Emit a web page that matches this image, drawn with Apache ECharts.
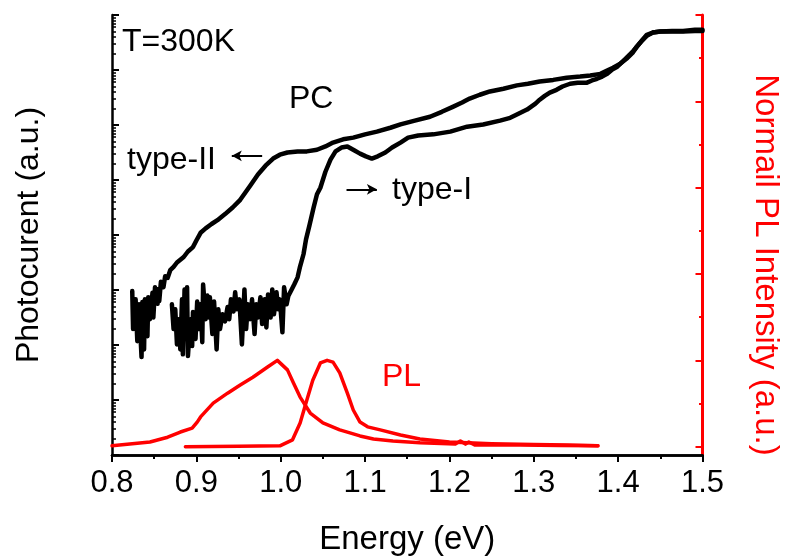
<!DOCTYPE html>
<html>
<head>
<meta charset="utf-8">
<script src="https://cdn.jsdelivr.net/npm/echarts@6/dist/echarts.min.js"></script>
<style>html,body{margin:0;padding:0;background:#fff}#c{width:785px;height:558px}</style>
</head>
<body>
<div id="c"></div>
<script>
// Energy axis (eV)
const xTicks = [0.8, 0.9, 1.0, 1.1, 1.2, 1.3, 1.4, 1.5];
// Photocurrent is on a log axis: values stored as log10(photocurrent, a.u.), 8 decades
const decades = [0, 1, 2, 3, 4, 5, 6, 7, 8];
// Normalised PL major / minor ticks
const plMajor = [0, 0.2, 0.4, 0.6, 0.8, 1.0];
const plMinor = [0.1, 0.3, 0.5, 0.7, 0.9];

// [energy eV, log10 photocurrent]
const pcTypeII = [[0.824,2.98],[0.825,2.29],[0.828,2.83],[0.830,2.07],[0.832,2.74],[0.835,1.78],[0.836,2.78],[0.838,1.92],[0.839,2.83],[0.842,2.16],[0.843,2.87],[0.845,2.47],[0.848,2.95],[0.849,2.50],[0.851,3.05],[0.854,2.75],[0.855,3.02],[0.856,2.80],[0.858,3.15],[0.861,3.05],[0.863,3.25],[0.866,3.22],[0.869,3.36],[0.873,3.42],[0.877,3.50],[0.881,3.55],[0.885,3.60],[0.890,3.70],[0.896,3.78],[0.900,3.90],[0.905,4.04],[0.911,4.12],[0.918,4.20],[0.925,4.27],[0.934,4.38],[0.943,4.50],[0.952,4.64],[0.964,4.90],[0.973,5.10],[0.982,5.26],[0.991,5.39],[0.999,5.46],[1.008,5.50],[1.020,5.52],[1.031,5.52],[1.043,5.55],[1.053,5.61],[1.062,5.68],[1.074,5.74],[1.086,5.77],[1.100,5.83],[1.114,5.88],[1.130,5.95],[1.142,6.01],[1.159,6.08],[1.177,6.15],[1.191,6.24],[1.204,6.33],[1.215,6.41],[1.224,6.48],[1.236,6.55],[1.248,6.61],[1.264,6.66],[1.280,6.72],[1.293,6.75],[1.307,6.79],[1.323,6.82],[1.339,6.86],[1.355,6.88],[1.367,6.90],[1.379,6.93],[1.387,6.99],[1.394,7.04],[1.402,7.11],[1.411,7.22],[1.417,7.31],[1.422,7.42],[1.428,7.53],[1.434,7.62],[1.441,7.68],[1.450,7.70],[1.464,7.70],[1.477,7.70],[1.491,7.71],[1.500,7.71]];

const pcTypeI = [[0.871,2.74],[0.873,2.29],[0.875,2.65],[0.877,2.01],[0.879,2.47],[0.881,1.92],[0.883,2.83],[0.884,1.83],[0.886,3.01],[0.888,2.11],[0.889,3.05],[0.890,1.80],[0.893,2.47],[0.895,1.98],[0.896,2.60],[0.899,2.11],[0.901,2.79],[0.903,2.29],[0.905,2.74],[0.907,2.05],[0.908,3.10],[0.911,2.47],[0.913,2.90],[0.915,2.50],[0.916,2.87],[0.919,2.20],[0.921,2.79],[0.924,1.92],[0.926,2.65],[0.928,2.29],[0.931,2.56],[0.934,2.43],[0.937,2.69],[0.939,2.47],[0.941,2.83],[0.944,2.61],[0.946,2.96],[0.948,2.65],[0.951,2.83],[0.954,2.01],[0.957,3.01],[0.959,2.29],[0.961,2.74],[0.964,2.47],[0.966,2.83],[0.969,2.20],[0.971,2.74],[0.973,2.50],[0.976,2.87],[0.978,2.38],[0.981,2.83],[0.983,2.32],[0.985,2.92],[0.988,2.50],[0.990,3.01],[0.992,2.56],[0.995,2.96],[0.997,2.65],[0.999,2.83],[1.002,2.23],[1.004,3.05],[1.007,2.74],[1.009,2.89],[1.013,3.01],[1.016,3.10],[1.020,3.23],[1.023,3.43],[1.027,3.65],[1.030,3.92],[1.034,4.17],[1.039,4.50],[1.043,4.74],[1.047,4.86],[1.053,5.15],[1.059,5.37],[1.065,5.52],[1.072,5.59],[1.079,5.61],[1.087,5.54],[1.094,5.48],[1.101,5.43],[1.108,5.39],[1.115,5.43],[1.124,5.50],[1.132,5.59],[1.142,5.68],[1.151,5.77],[1.163,5.81],[1.181,5.83],[1.201,5.88],[1.221,5.97],[1.240,6.01],[1.260,6.08],[1.272,6.13],[1.280,6.19],[1.292,6.28],[1.302,6.39],[1.307,6.46],[1.313,6.53],[1.319,6.59],[1.327,6.64],[1.334,6.70],[1.343,6.75],[1.352,6.77],[1.363,6.77],[1.369,6.81],[1.375,6.84],[1.381,6.88],[1.387,6.93],[1.393,7.01],[1.399,7.06],[1.405,7.15],[1.411,7.24],[1.417,7.33],[1.423,7.44],[1.429,7.55],[1.434,7.64],[1.441,7.68],[1.450,7.70],[1.464,7.71],[1.477,7.71],[1.491,7.73],[1.500,7.73]];

// [energy eV, normalised PL]
const plBroad = [[0.800,0.002],[0.845,0.011],[0.866,0.022],[0.881,0.034],[0.895,0.043],[0.901,0.057],[0.905,0.069],[0.920,0.101],[0.937,0.124],[0.952,0.143],[0.967,0.161],[0.984,0.184],[0.996,0.200],[1.008,0.178],[1.015,0.148],[1.023,0.115],[1.035,0.078],[1.050,0.055],[1.070,0.039],[1.094,0.025],[1.110,0.018],[1.133,0.013],[1.165,0.009],[1.207,0.006],[1.213,0.013],[1.219,0.006],[1.223,0.011],[1.230,0.004],[1.284,0.004],[1.331,0.003],[1.376,0.002]];
const plNarrow = [[0.887,0.000],[0.950,0.001],[0.999,0.002],[1.014,0.016],[1.023,0.055],[1.031,0.108],[1.038,0.154],[1.047,0.194],[1.055,0.200],[1.062,0.196],[1.070,0.171],[1.079,0.124],[1.086,0.085],[1.094,0.057],[1.103,0.046],[1.118,0.039],[1.142,0.027],[1.165,0.018],[1.200,0.011],[1.250,0.007],[1.300,0.005],[1.340,0.004],[1.376,0.002]];

// arrows next to the labels (data coordinates)
const arrowTypeII = [[0.978,5.44],[0.942,5.44]];
const arrowTypeI = [[1.078,4.83],[1.114,4.83]];

const FONT = '"Liberation Sans", Arial, Helvetica, sans-serif';
const RED = '#ff0000';

const minorLog = [];
for (let n = 0; n < decades.length - 1; n++) {
  for (let k = 2; k <= 9; k++) minorLog.push(decades[n] + Math.log10(k));
}

const chart = echarts.init(document.getElementById('c'));
const xBase = {
  type: 'value', min: xTicks[0], max: xTicks[xTicks.length - 1], interval: 0.1,
  splitLine: { show: false }
};
const arrowLine = (pts) => ({
  silent: true, symbol: ['none', 'arrow'], symbolSize: [8, 10],
  label: { show: false }, emphasis: { disabled: true },
  lineStyle: { color: '#000', width: 2, type: 'solid' },
  data: [[{ coord: pts[0] }, { coord: pts[1] }]]
});

chart.setOption({
  animation: false,
  grid: { left: 112, right: 82.5, top: 15, bottom: 103, containLabel: false, outerBoundsMode: 'none' },
  xAxis: [
    Object.assign({}, xBase, {
      position: 'bottom',
      axisLine: { lineStyle: { color: '#000', width: 2.5 } },
      axisTick: { inside: false, length: 7, lineStyle: { color: '#000', width: 2 } },
      minorTick: { show: true, splitNumber: 2, length: 4, lineStyle: { color: '#000', width: 2 } },
      axisLabel: { fontSize: 31, color: '#000', fontFamily: FONT, margin: 13, formatter: v => v.toFixed(1) },
      name: 'Energy (eV)', nameLocation: 'middle', nameGap: 68,
      nameTextStyle: { fontSize: 33, color: '#000', fontFamily: FONT }
    }),
    Object.assign({}, xBase, {
      position: 'top',
      axisLine: { lineStyle: { color: '#000', width: 2.5 } },
      axisTick: { inside: true, length: 4, lineStyle: { color: '#000', width: 1.5 } },
      minorTick: { show: true, splitNumber: 2, length: 3, lineStyle: { color: '#000', width: 1.5 } },
      axisLabel: { show: false }
    })
  ],
  yAxis: [
    {
      type: 'value', position: 'left', min: decades[0], max: decades[decades.length - 1], interval: 1,
      axisLine: { show: true, lineStyle: { color: '#000', width: 2.5 } },
      axisTick: { show: true, inside: true, length: 7, lineStyle: { color: '#000', width: 2 } },
      axisLabel: { show: false }, splitLine: { show: false },
      name: 'Photocurent (a.u.)', nameLocation: 'middle', nameGap: 67,
      nameTextStyle: { fontSize: 32, color: '#000', fontFamily: FONT }
    },
    {
      type: 'value', position: 'left', min: decades[0], max: decades[decades.length - 1],
      axisLine: { show: false },
      axisTick: { show: true, inside: true, length: 4, customValues: minorLog, lineStyle: { color: '#000', width: 1.5 } },
      axisLabel: { show: false }, splitLine: { show: false }
    },
    {
      type: 'value', position: 'right', min: -0.0192, max: 1,
      axisLine: { show: true, lineStyle: { color: RED, width: 3 } },
      axisTick: { show: true, inside: true, length: 7, customValues: plMajor, lineStyle: { color: RED, width: 2 } },
      axisLabel: { show: false }, splitLine: { show: false }
    },
    {
      type: 'value', position: 'right', min: -0.0192, max: 1,
      axisLine: { show: false },
      axisTick: { show: true, inside: true, length: 3.5, customValues: plMinor, lineStyle: { color: RED, width: 2 } },
      axisLabel: { show: false }, splitLine: { show: false }
    }
  ],
  series: [
    { type: 'line', name: 'PL broad', xAxisIndex: 0, yAxisIndex: 2, data: plBroad, showSymbol: false,
      lineStyle: { color: RED, width: 3.5, join: 'round', cap: 'round' } },
    { type: 'line', name: 'PL narrow', xAxisIndex: 0, yAxisIndex: 2, data: plNarrow, showSymbol: false,
      lineStyle: { color: RED, width: 3.5, join: 'round', cap: 'round' } },
    { type: 'line', name: 'type-II', xAxisIndex: 0, yAxisIndex: 0, data: pcTypeII, showSymbol: false,
      lineStyle: { color: '#000', width: 4.5, join: 'round', cap: 'round' }, markLine: arrowLine(arrowTypeII) },
    { type: 'line', name: 'type-I', xAxisIndex: 0, yAxisIndex: 0, data: pcTypeI, showSymbol: false,
      lineStyle: { color: '#000', width: 4.5, join: 'round', cap: 'round' }, markLine: arrowLine(arrowTypeI) }
  ],
  graphic: [
    { type: 'text', x: 122, y: 42, style: { text: 'T=300K', fontSize: 32, fontFamily: FONT, fill: '#000', verticalAlign: 'middle' } },
    { type: 'text', x: 289, y: 99, style: { text: 'PC', fontSize: 32, fontFamily: FONT, fill: '#000', verticalAlign: 'middle' } },
    { type: 'text', x: 127, y: 160, style: { text: 'type-II', fontSize: 32, fontFamily: FONT, fill: '#000', verticalAlign: 'middle' } },
    { type: 'text', x: 392, y: 190, style: { text: 'type-I', fontSize: 32, fontFamily: FONT, fill: '#000', verticalAlign: 'middle' } },
    { type: 'text', x: 382, y: 377, style: { text: 'PL', fontSize: 32, fontFamily: FONT, fill: RED, verticalAlign: 'middle' } },
    { type: 'text', x: 765, y: 265, rotation: -Math.PI / 2,
      style: { text: 'Normail PL Intensity (a.u.)', fontSize: 33, fontFamily: FONT, fill: RED, align: 'center', verticalAlign: 'middle' } }
  ]
});
</script>
</body>
</html>
